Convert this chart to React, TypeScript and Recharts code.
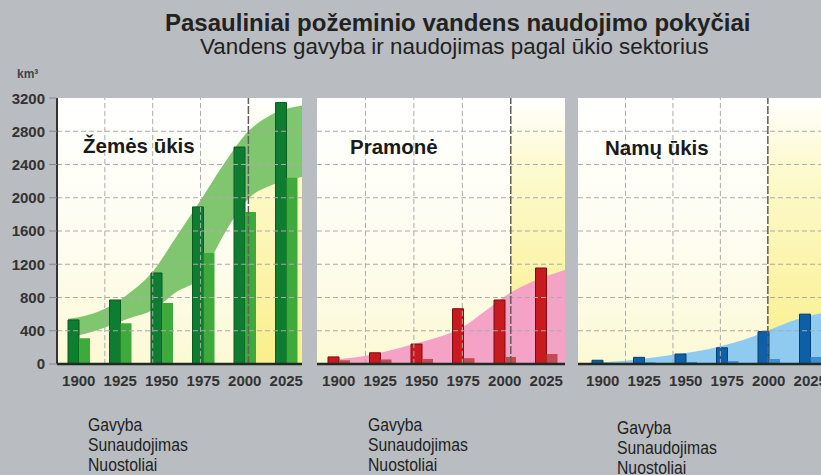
import React from 'react';
import { ComposedChart, Bar, Area, XAxis, YAxis, ReferenceArea, ReferenceLine } from 'recharts';

const years = ['1900', '1925', '1950', '1975', '2000', '2025'];
const yTicks = [0, 400, 800, 1200, 1600, 2000, 2400, 2800, 3200];
const gridYears = [1925, 1950, 1975];
const forecastStart = 2000;

// Žemės ūkis
const agriAbstraction = [530, 770, 1095, 1890, 2610, 3145];
const agriConsumption = [310, 490, 735, 1335, 1830, 2240];
const agriBandYears = [1906, 1912, 1925, 1937, 1950, 1962, 1975, 1987, 2000, 2012, 2028];
const agriBandTop = [545, 566, 665, 840, 1110, 1520, 1970, 2400, 2800, 3000, 3110];
const agriBandBottom = [330, 350, 440, 545, 650, 860, 1050, 1550, 1990, 2150, 2250];

// Pramonė
const indAbstraction = [85, 135, 240, 665, 770, 1155];
const indConsumption = [45, 55, 60, 70, 85, 120];
const indBandYears = [1906, 1925, 1937, 1950, 1962, 1975, 1987, 2000, 2012, 2028];
const indBandTop = [50, 100, 160, 240, 320, 440, 640, 860, 1000, 1130];

// Namų ūkis
const domAbstraction = [45, 80, 120, 195, 390, 600];
const domConsumption = [15, 20, 25, 35, 60, 85];
const domBandYears = [1906, 1925, 1950, 1962, 1975, 1987, 2000, 2012, 2028];
const domBandTop = [15, 40, 110, 150, 215, 290, 400, 510, 610];

const legendLabels = ['Gavyba', 'Sunaudojimas', 'Nuostoliai'];

const sans = "'Liberation Sans', Arial, sans-serif";

type PanelProps = {
  id: string;
  left: number;
  marginLeft: number;
  plotWidth: number;
  showY: boolean;
  pad: { left: number; right: number };
  abs: number[];
  use: number[];
  bandYears: number[];
  bandTop: number[];
  bandBottom?: number[];
  absColor: string;
  absStroke: string;
  useColor: string;
  bandColor: string;
};

const Panel = (p: PanelProps) => {
  const rows = years.map((y, i) => ({ year: y, abs: p.abs[i], use: p.use[i] }));
  const band = p.bandYears.map((y, i) => ({
    year: y,
    high: p.bandTop[i],
    low: p.bandBottom ? p.bandBottom[i] : 0,
  }));
  const width = p.marginLeft + (p.showY ? 57 : 0) + p.plotWidth + 12;

  return (
    <div style={{ position: 'absolute', left: p.left, top: 90 }}>
      <ComposedChart
        width={width}
        height={310}
        data={rows}
        barGap={0}
        margin={{ top: 8, right: 12, bottom: 6, left: p.marginLeft }}
        style={{ fontFamily: sans }}
      >
        <defs>
          <linearGradient id={`bg-${p.id}`} x1="0" y1="0" x2="0" y2="1">
            <stop offset="0%" stopColor="#ffffff" />
            <stop offset="55%" stopColor="#fefdf0" />
            <stop offset="100%" stopColor="#fcf9d4" />
          </linearGradient>
          <linearGradient id={`fc-${p.id}`} x1="0" y1="0" x2="0" y2="1">
            <stop offset="0%" stopColor="#ffffff" />
            <stop offset="25%" stopColor="#fdfad0" />
            <stop offset="100%" stopColor="#f9ef8a" />
          </linearGradient>
        </defs>
        <XAxis
          xAxisId="cat"
          dataKey="year"
          type="category"
          interval={0}
          padding={p.pad}
          height={30}
          tickLine={false}
          tickSize={0}
          tickMargin={11}
          axisLine={{ stroke: '#1e2a22', strokeWidth: 2.5 }}
          tick={{ fill: '#333', fontSize: 15, fontWeight: 700, fontFamily: sans }}
        />
        <XAxis xAxisId="yr" dataKey="year" type="number" domain={[1900, 2028]} hide />
        <YAxis
          yAxisId="v"
          domain={[0, 3200]}
          ticks={yTicks}
          hide={!p.showY}
          width={57}
          tickSize={8}
          tickMargin={4}
          tickLine={{ stroke: '#888' }}
          axisLine={{ stroke: '#333', strokeWidth: 2 }}
          tick={{ fill: '#333', fontSize: 15, fontWeight: 700, fontFamily: sans }}
        />
        <ReferenceArea xAxisId="yr" yAxisId="v" y1={0} y2={3200} fill={`url(#bg-${p.id})`} fillOpacity={1} />
        <ReferenceArea xAxisId="yr" yAxisId="v" x1={forecastStart} y1={0} y2={3200} fill={`url(#fc-${p.id})`} fillOpacity={1} />
        {yTicks.filter((t) => t > 0 && t < 3200).map((t) => (
          <ReferenceLine key={`h${t}`} xAxisId="yr" yAxisId="v" y={t} stroke="#ababab" strokeDasharray="5 3" />
        ))}
        {gridYears.map((y) => (
          <ReferenceLine key={`v${y}`} xAxisId="yr" yAxisId="v" x={y} stroke="#ababab" strokeDasharray="5 3" />
        ))}
        <ReferenceLine xAxisId="yr" yAxisId="v" x={forecastStart} stroke="#5e5e5e" strokeWidth={1.5} strokeDasharray="8 2" />
        <Area
          xAxisId="yr"
          yAxisId="v"
          data={band}
          dataKey={(d: { low: number; high: number }) => [d.low, d.high]}
          type="monotone"
          fill={p.bandColor}
          fillOpacity={1}
          stroke="none"
          dot={false}
          activeDot={false}
          isAnimationActive={false}
        />
        <Bar xAxisId="cat" yAxisId="v" dataKey="abs" barSize={11} fill={p.absColor} stroke={p.absStroke} isAnimationActive={false} />
        <Bar xAxisId="cat" yAxisId="v" dataKey="use" barSize={11} fill={p.useColor} isAnimationActive={false} />
      </ComposedChart>
    </div>
  );
};

const panelTitle: React.CSSProperties = {
  position: 'absolute',
  fontFamily: sans,
  fontWeight: 700,
  fontSize: 20.5,
  lineHeight: 1,
  color: '#1a1a1a',
  whiteSpace: 'nowrap',
};

const legendStyle: React.CSSProperties = {
  position: 'absolute',
  fontFamily: sans,
  fontSize: 17.5,
  lineHeight: '20px',
  color: '#222',
  whiteSpace: 'nowrap',
  transform: 'scaleX(0.9)',
  transformOrigin: 'left top',
};

export default function App() {
  return (
    <div
      style={{
        position: 'absolute',
        left: 0,
        top: 0,
        width: 821,
        height: 475,
        overflow: 'hidden',
        background: '#b9bcc1',
      }}
    >
      <div style={{ position: 'absolute', left: 165, top: 11, fontFamily: sans, fontWeight: 700, fontSize: 24, lineHeight: '24px', color: '#222', whiteSpace: 'nowrap' }}>
        Pasauliniai požeminio vandens naudojimo pokyčiai
      </div>
      <div style={{ position: 'absolute', left: 200, top: 36, fontFamily: sans, fontSize: 22.4, lineHeight: '22px', color: '#222', whiteSpace: 'nowrap' }}>
        Vandens gavyba ir naudojimas pagal ūkio sektorius
      </div>
      <div style={{ position: 'absolute', left: 17, top: 67, fontFamily: sans, fontWeight: 700, fontSize: 12, color: '#444' }}>
        km³
      </div>

      <Panel
        id="agri"
        left={0}
        marginLeft={0}
        plotWidth={245}
        showY
        pad={{ left: 1, right: -5 }}
        abs={agriAbstraction}
        use={agriConsumption}
        bandYears={agriBandYears}
        bandTop={agriBandTop}
        bandBottom={agriBandBottom}
        absColor="#0e7d31"
        absStroke="#0a5a22"
        useColor="#3faa3c"
        bandColor="#80c66f"
      />
      <Panel
        id="ind"
        left={305}
        marginLeft={12}
        plotWidth={248}
        showY={false}
        pad={{ left: 1, right: -2 }}
        abs={indAbstraction}
        use={indConsumption}
        bandYears={indBandYears}
        bandTop={indBandTop}
        absColor="#c81b20"
        absStroke="#7c0d0d"
        useColor="#c24a52"
        bandColor="#f4a3c6"
      />
      <Panel
        id="dom"
        left={566}
        marginLeft={12}
        plotWidth={243}
        showY={false}
        pad={{ left: 4, right: -10 }}
        abs={domAbstraction}
        use={domConsumption}
        bandYears={domBandYears}
        bandTop={domBandTop}
        absColor="#0d60a8"
        absStroke="#083c6c"
        useColor="#3d8fd0"
        bandColor="#8fcbf0"
      />

      <div style={{ ...panelTitle, left: 83, top: 136 }}>Žemės ūkis</div>
      <div style={{ ...panelTitle, left: 350, top: 137 }}>Pramonė</div>
      <div style={{ ...panelTitle, left: 605, top: 138 }}>Namų ūkis</div>

      {[
        { left: 88, top: 415 },
        { left: 368, top: 415 },
        { left: 617, top: 418 },
      ].map((pos, i) => (
        <div key={i} style={{ ...legendStyle, left: pos.left, top: pos.top }}>
          {legendLabels.map((l) => (
            <div key={l}>{l}</div>
          ))}
        </div>
      ))}
    </div>
  );
}
